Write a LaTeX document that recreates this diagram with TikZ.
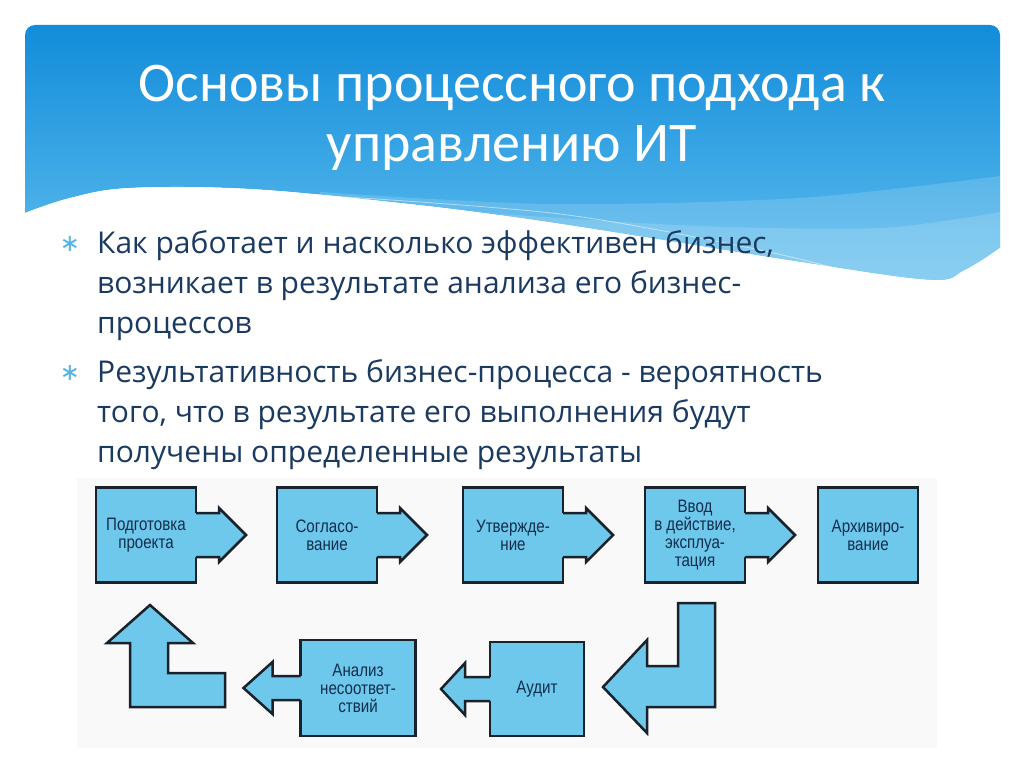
\documentclass[tikz,border=0pt]{standalone}
\usepackage{fontspec}
\setmainfont{Open Sans}
\newfontfamily\titlefont{Carlito}
\newfontfamily\boxfont[FakeStretch=0.84]{Liberation Sans}
\newfontfamily\symfont{DejaVu Sans}
\usetikzlibrary{calc}
\definecolor{hdtop}{RGB}{18,140,218}
\definecolor{hdbot}{RGB}{95,190,238}
\definecolor{bodytext}{RGB}{27,58,98}
\definecolor{bulblue}{RGB}{80,180,228}
\definecolor{boxfill}{RGB}{110,200,236}
\definecolor{boxline}{RGB}{25,33,42}
\definecolor{boxtext}{RGB}{18,45,75}
\definecolor{diagbg}{RGB}{249,249,249}

% block arrows glued to a box: fill first (hides the box edge), then outline
\newcommand{\rarr}[1]{%
  \fill[boxfill] ($(#1.east)+(-2,-22)$) -- ++(25,0) -- ++(0,-5) -- ++(27,27)
    -- ++(-27,27) -- ++(0,-5) -- ++(-25,0) -- cycle;
  \draw[arrline] ($(#1.east)+(0,-22)$) -- ++(23,0) -- ++(0,-5) -- ++(27,27)
    -- ++(-27,27) -- ++(0,-5) -- ++(-23,0);}
\newcommand{\larr}[3]{%
  \fill[boxfill] ($(#1.west)+(2,-12)$) -- ++(-#2-2,0) -- ++(0,-14) -- ++(-#3,26)
    -- ++(#3,26) -- ++(0,-14) -- ++(#2+2,0) -- cycle;
  \draw[arrline] ($(#1.west)+(0,-12)$) -- ++(-#2,0) -- ++(0,-14) -- ++(-#3,26)
    -- ++(#3,26) -- ++(0,-14) -- ++(#2,0);}

\tikzset{
  shp/.style={draw=boxline, fill=boxfill, line width=2.5pt, line join=miter},
  arrline/.style={draw=boxline, line width=2.5pt, line join=miter},
  blk/.style={shp, font=\boxfont\fontsize{18}{18}\selectfont, text=boxtext,
    align=center, inner sep=0pt, outer sep=0pt},
  body/.style={font=\fontsize{30}{40}\selectfont, text=bodytext, align=left,
    inner sep=0pt},
  bul/.style={font=\symfont\fontsize{24}{24}\selectfont, text=bulblue, inner sep=0pt},
}

\begin{document}
\begin{tikzpicture}[x=1pt, y=-1pt]
  \useasboundingbox (0,0) rectangle (1024,768);
  \fill[white] (0,0) rectangle (1024,768);

  % header band
  \shade[top color=hdtop, bottom color=hdbot]
    (25,213) [rounded corners=10pt] -- (25,25) -- (1000,25) [sharp corners] -- (1000,248)
    -- plot[smooth, tension=0.6] coordinates {(1000,248) (965,270) (930,280) (800,262)
      (650,238) (520,218) (400,203) (250,189) (130,188) (70,198) (25,213)} -- cycle;
  \fill[white, opacity=0.15] plot[smooth] coordinates {(320,192) (550,204) (800,198) (1000,176)}
    -- (1000,300) -- (320,300) -- cycle;
  \fill[white, opacity=0.15] plot[smooth] coordinates {(500,214) (700,226) (880,228) (1000,212)}
    -- (1000,300) -- (500,300) -- cycle;
  \draw[white, opacity=0.5, line width=0.8pt] plot[smooth] coordinates
    {(330,196) (560,214) (760,250) (880,280)};
  \fill[white] plot[smooth, tension=0.6] coordinates {(1000,248) (965,270) (930,280) (800,262)
      (650,238) (520,218) (400,203) (250,189) (130,188) (70,198) (25,213)}
    -- (25,300) -- (1010,300) -- (1010,248) -- cycle;

  \node[font=\titlefont\fontsize{56}{60}\selectfont, text=white, align=center]
    (ttl) at (512,118) {Основы процессного подхода к\\управлению ИТ};

  % bullets
  \node[bul] (s1) at (70,244) {∗};
  \node[body, anchor=base west] (p1) at (97,333)
    {Как работает и насколько эффективен бизнес,\\возникает в результате анализа его бизнес-\\процессов};
  \node[bul] (s2) at (70,373) {∗};
  \node[body, anchor=base west] (p2) at (97,462)
    {Результативность бизнес-процесса - вероятность\\того, что в результате его выполнения будут\\получены определенные результаты};

  % process chain
  \fill[diagbg] (77,478) rectangle (937,748);
  \foreach \n/\cx/\txt in {b1/146/{Подготовка\\проекта}, b2/327/{Согласо-\\вание},
      b3/513/{Утвержде-\\ние}, b4/695/{Ввод\\в действие,\\эксплуа-\\тация},
      b5/868/{Архивиро-\\вание}}
    \node[blk, minimum width=100pt, minimum height=95pt] (\n) at (\cx,535) {\txt};
  \foreach \n in {b1,b2,b3,b4}
    \rarr{\n};

  \draw[shp] (678,603) -- (715,603) -- (715,707) -- (647,707) -- (647,733) -- (603,687)
    -- (647,640) -- (647,666) -- (678,666) -- cycle;
  \node[blk, minimum width=94pt, minimum height=94pt] (au) at (537,689) {Аудит};
  \larr{au}{25}{24}
  \node[blk, minimum width=115pt, minimum height=96pt] (an) at (358,688)
    {Анализ\\несоответ-\\ствий};
  \larr{an}{28}{29}
  \draw[shp] (130,643) -- (107,643) -- (150,605) -- (193,643) -- (168,643) -- (168,673)
    -- (225,673) -- (225,707) -- (130,707) -- cycle;
\end{tikzpicture}
\end{document}
